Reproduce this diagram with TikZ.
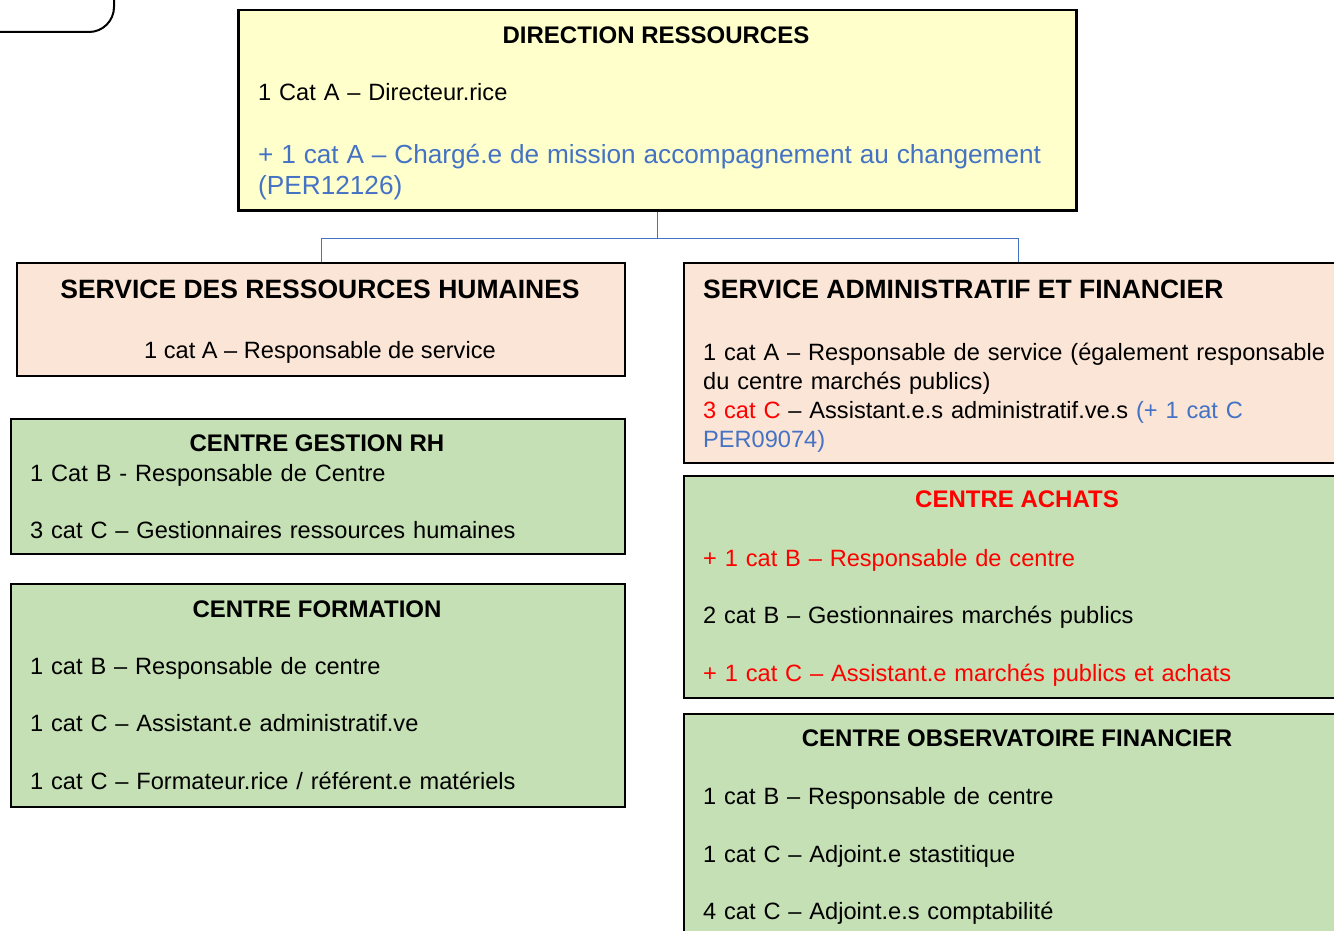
\documentclass[tikz,border=0pt]{standalone}
\usepackage{fontspec}
\setmainfont{Liberation Sans}
\usepackage{xcolor}
\usepackage{tikz}
\usetikzlibrary{positioning}

\definecolor{dirfill}{HTML}{FFFFCC}
\definecolor{svcfill}{HTML}{FBE5D6}
\definecolor{ctrfill}{HTML}{C5E0B4}
\definecolor{accblue}{HTML}{4472C4}
\definecolor{accred}{HTML}{FF0000}

\begin{document}
\begin{tikzpicture}[
      x=1pt, y=-1pt,
      boxframe/.style={rectangle, draw, line width=2pt, anchor=north west, inner sep=0},
      dirbox/.style={boxframe, fill=dirfill, line width=2.5pt},
      svcbox/.style={boxframe, fill=svcfill},
      ctrbox/.style={boxframe, fill=ctrfill},
      headline/.style={anchor=base, inner sep=0, font=\bfseries\fontsize{24}{29}\selectfont},
      bigheadline/.style={headline, font=\bfseries\fontsize{26.5}{32}\selectfont},
      bodytext/.style={anchor=base west, inner sep=0, align=left, text width=#1, font=\fontsize{23.6}{29}\selectfont},
      link/.style={draw=accblue, line width=1pt}
    ]
      \useasboundingbox (0,0) rectangle (1334,931);
      \clip (0,0) rectangle (1334,931);

      % partial box at the top left
      \node[boxframe, anchor=south east, rounded corners=25pt, minimum width=200, minimum height=120] (prev) at (115,33) {};

      % direction
      \node[dirbox, minimum width=838, minimum height=200] (dir) at (237,9) {};
      \node[headline] (dir-title) at (656,43.5) {DIRECTION RESSOURCES};
      \node[bodytext=800] (dir-text) at (258,100.5) {1 Cat A – Directeur.rice\\[32pt]
        {\color{accblue}\fontsize{26.2}{31}\selectfont + 1 cat A – Chargé.e de mission accompagnement au changement\\[2pt](PER12126)}};

      % services
      \node[svcbox, minimum width=608, minimum height=113] (srh) at (16,262) {};
      \node[bigheadline] (srh-title) at (320,298.5) {SERVICE DES RESSOURCES HUMAINES};
      \node[anchor=base, inner sep=0, font=\fontsize{23.6}{29}\selectfont] (srh-text) at (320,358.5) {1 cat A – Responsable de service};

      \node[svcbox, minimum width=668, minimum height=200] (saf) at (683,262) {};
      \node[bigheadline, anchor=base west] (saf-title) at (703,298.5) {SERVICE ADMINISTRATIF ET FINANCIER};
      \node[bodytext=640] (saf-text) at (703,360.5) {1 cat A – Responsable de service (également responsable\\
        du centre marchés publics)\\
        {\color{accred}3 cat C} – Assistant.e.s administratif.ve.s {\color{accblue}(+ 1 cat C}\\
        {\color{accblue}PER09074)}};

      % centres RH
      \node[ctrbox, minimum width=614, minimum height=135] (cgrh) at (10,418) {};
      \node[headline] (cgrh-title) at (317,451.5) {CENTRE GESTION RH};
      \node[bodytext=590] (cgrh-text) at (30,481.5) {1 Cat B - Responsable de Centre\\[28pt]
        3 cat C – Gestionnaires ressources humaines};

      \node[ctrbox, minimum width=614, minimum height=223] (cform) at (10,583) {};
      \node[headline] (cform-title) at (317,617.5) {CENTRE FORMATION};
      \node[bodytext=590] (cform-text) at (30,674.5) {1 cat B – Responsable de centre\\[28pt]
        1 cat C – Assistant.e administratif.ve\\[29pt]
        1 cat C – Formateur.rice / référent.e matériels};

      % centres finances
      \node[ctrbox, minimum width=668, minimum height=222] (cach) at (683,475) {};
      \node[headline, text=accred] (cach-title) at (1017,507.5) {CENTRE ACHATS};
      \node[bodytext=640] (cach-text) at (703,566.5) {{\color{accred}+ 1 cat B – Responsable de centre}\\[28pt]
        2 cat B – Gestionnaires marchés publics\\[29pt]
        {\color{accred}+ 1 cat C – Assistant.e marchés publics et achats}};

      \node[ctrbox, minimum width=668, minimum height=260] (cobs) at (683,713) {};
      \node[headline] (cobs-title) at (1017,746.5) {CENTRE OBSERVATOIRE FINANCIER};
      \node[bodytext=640] (cobs-text) at (703,804.5) {1 cat B – Responsable de centre\\[29pt]
        1 cat C – Adjoint.e stastitique\\[28pt]
        4 cat C – Adjoint.e.s comptabilité};

      \draw[link] (dir.south) -- ++(0,27) -| (srh.north);
      \draw[link] (dir.south) -- ++(0,27) -| (saf.north);
    \end{tikzpicture}
\end{document}
